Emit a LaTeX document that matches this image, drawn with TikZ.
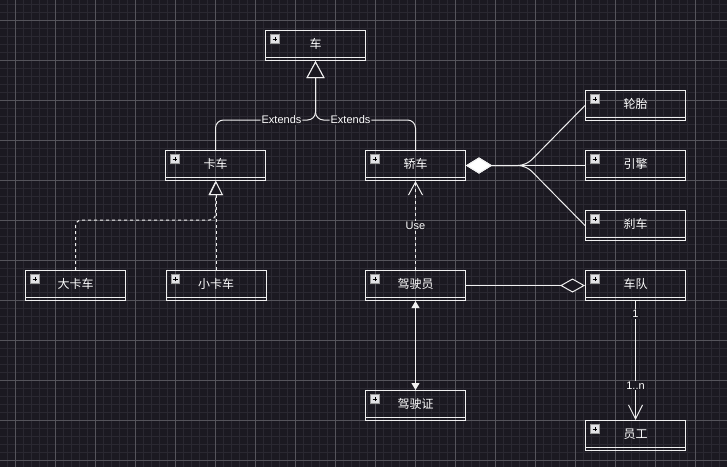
\documentclass[tikz,border=0pt]{standalone}
\usepackage{fontspec}
\setmainfont{Liberation Sans}
\newfontfamily\cjk{Noto Sans CJK SC}
\usetikzlibrary{arrows.meta}
\definecolor{bgc}{HTML}{1B1921}
\definecolor{minorc}{HTML}{2A2831}
\definecolor{majorc}{HTML}{55545B}
\definecolor{linec}{HTML}{F0F0F0}
\definecolor{iconc}{HTML}{E2E2E6}
\tikzset{
  cls/.style={draw=linec, line width=1pt, minimum width=100pt, minimum height=30pt,
    inner sep=0pt, anchor=north west, text=white, font=\cjk\fontsize{12}{14}\selectfont,
    text height=11pt, text depth=4.5pt},
  sepl/.style={draw=linec, line width=1pt},
  icon/.style={rectangle, draw=gray!80, fill=iconc, minimum size=8.5pt, inner sep=0pt, line width=0.7pt,
    path picture={\draw[black,line width=0.9pt]
      ([xshift=-2.4pt]path picture bounding box.center) -- ([xshift=2.4pt]path picture bounding box.center)
      ([yshift=-2.4pt]path picture bounding box.center) -- ([yshift=2.4pt]path picture bounding box.center);}},
  conn/.style={draw=linec, line width=1pt},
  dsh/.style={dash pattern=on 3pt off 3pt},
  lbl/.style={fill=bgc, inner sep=1pt, text=white, font=\fontsize{11}{13}\selectfont},
}
\begin{document}
\begin{tikzpicture}[x=1pt,y=-1pt]
\fill[bgc] (0,0) rectangle (727,467);
\useasboundingbox (0,0) rectangle (727,467);
% grid
\foreach \k in {0,...,90} { \draw[minorc, line width=0.8pt] ({7+8*\k},0) -- ({7+8*\k},467); }
\foreach \k in {0,...,58} { \draw[minorc, line width=0.8pt] (0,{4+8*\k}) -- (727,{4+8*\k}); }
\foreach \k in {0,...,17} { \draw[majorc, line width=0.8pt] ({15+40*\k},0) -- ({15+40*\k},467); }
\foreach \k in {0,...,11} { \draw[majorc, line width=0.8pt] (0,{20+40*\k}) -- (727,{20+40*\k}); }

% classes
\node[cls] (che) at (265,30) {车};
\node[cls] (kache) at (165,150) {卡车};
\node[cls] (jiaoche) at (365,150) {轿车};
\node[cls] (dakache) at (25,270) {大卡车};
\node[cls] (xiaokache) at (165.5,270) {小卡车};
\node[cls] (jiashiyuan) at (365,270) {驾驶员};
\node[cls] (jiashizheng) at (365,390) {驾驶证};
\node[cls] (chedui) at (585,270) {车队};
\node[cls] (yuangong) at (585,420) {员工};
\node[cls] (luntai) at (585,90) {轮胎};
\node[cls] (yinqing) at (585,150) {引擎};
\node[cls] (shache) at (585,210) {刹车};
\foreach \n in {che,kache,jiaoche,dakache,xiaokache,jiashiyuan,jiashizheng,chedui,yuangong,luntai,yinqing,shache}{
  \draw[sepl] ([yshift=4pt]\n.south west) -- ([yshift=4pt]\n.south east);
  \node[icon] (\n-ic) at ([xshift=10pt,yshift=-9pt]\n.north west) {};
}

% generalization
\draw[conn, rounded corners=8pt, -{Triangle[length=17pt,width=18pt,fill=bgc]}]
  (kache.north) -- ++(0,-30) -| node[lbl, pos=0.33] {Extends} (che.south);
\draw[conn, rounded corners=8pt, -{Triangle[length=17pt,width=18pt,fill=bgc]}]
  (jiaoche.north) -- ++(0,-30) -| node[lbl, pos=0.325] {Extends} (che.south);

% realization
\draw[conn, dsh, rounded corners=6pt, -{Triangle[length=14pt,width=14pt,fill=bgc]}]
  (dakache.north) -- ++(0,-50) -| (kache.south);
\draw[conn, dsh, -{Triangle[length=14pt,width=14pt,fill=bgc]}]
  (xiaokache.north) -- (xiaokache.north |- kache.south);

% dependency
\draw[conn, dsh, -{Straight Barb[length=13pt,width=14pt]}]
  (jiashiyuan.north) -- node[lbl] {Use} (jiaoche.south);

% composition
\foreach \t in {luntai,yinqing,shache}{
  \draw[conn, rounded corners=8pt, {Turned Square[length=26pt,width=16pt,fill=white]}-]
    (jiaoche.east) -- ++(60,0) -- (\t.west);
}

% aggregation
\draw[conn, -{Turned Square[length=25pt,width=14pt,fill=bgc]}] (jiashiyuan.east) -- (chedui.west);

% association both ways
\draw[conn, {Triangle[length=7pt,width=8pt]}-{Triangle[length=7pt,width=8pt]}]
  (jiashiyuan.south) -- (jiashizheng.north);

% 1..n
\draw[conn, -{Straight Barb[length=14pt,width=14pt]}]
  (chedui.south) -- node[lbl, pos=0.108] {1} node[lbl, pos=0.71] {1..n} (yuangong.north);
\end{tikzpicture}
\end{document}
